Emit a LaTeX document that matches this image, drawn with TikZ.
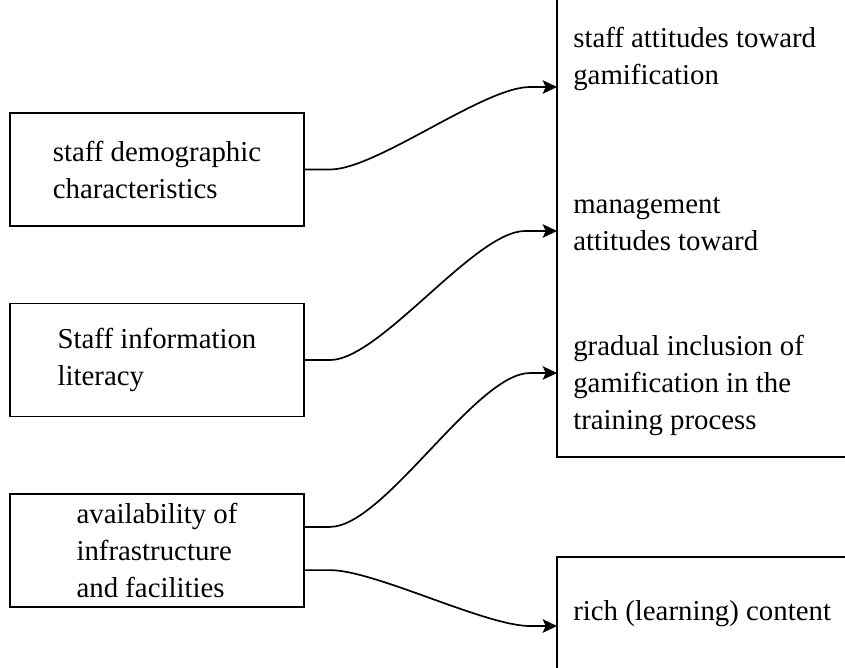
\documentclass[tikz,border=0pt]{standalone}
\usepackage{fontspec}
\setmainfont{Liberation Serif}
\usepackage{tikz}
\usetikzlibrary{positioning,calc,arrows.meta}

\tikzset{
  factor/.style={draw,rectangle,line width=1.3pt,minimum width=7.35cm,minimum height=2.825cm,align=left,inner sep=0pt},
  outcome/.style={anchor=north west,align=left,inner sep=0pt},
  link/.style={line width=1.2pt,looseness=0.55,-{Stealth[length=0.36cm,width=0.34cm,inset=0.08cm]}}
}

\begin{document}
\begin{tikzpicture}[x=0.025cm,y=-0.025cm,font={\fontsize{20.5}{26.3}\selectfont}]
    \useasboundingbox (0,0) rectangle (845,667);
    \clip (0,0) rectangle (845,667);

    % factors on the left
    \node[factor] (demog) at (157,169.5) {staff demographic\\characteristics};
    \node[factor] (literacy) at (157,360) {Staff information\\literacy};
    \node[factor] (avail) at (157,550.5) {availability of\\infrastructure\\and facilities};

    % boxes on the right, cut by the page edge
    \draw[line width=1.3pt] (557,-20) rectangle (880,457);
    \draw[line width=1.3pt] (557,557) rectangle (880,700);
    \node[outcome] (staffatt) at (573,21) {\strut staff attitudes toward\\gamification};
    \node[outcome] (mgmtatt) at (573,187) {\strut management\\attitudes toward};
    \node[outcome] (gradual) at (573,329) {\strut gradual inclusion of\\gamification in the\\training process};
    \node[outcome] (content) at (573,594) {\strut rich (learning) content};

    % arrow ends on the left edge
    \coordinate (t1) at (557,87);
    \coordinate (t2) at (557,231);
    \coordinate (t3) at (557,373);
    \coordinate (t4) at (557,626);

    \draw[link] (demog.east) -- ++(25,0) to[out=0,in=180] ($(t1)+(-27,0)$) -- (t1);
    \draw[link] (literacy.east) -- ++(25,0) to[out=0,in=180] ($(t2)+(-32,0)$) -- (t2);
    \draw[link] ([yshift=0.59cm]avail.east) -- ++(25,0) to[out=0,in=180] ($(t3)+(-27,0)$) -- (t3);
    \draw[link] ([yshift=-0.49cm]avail.east) -- ++(25,0) to[out=0,in=180] ($(t4)+(-27,0)$) -- (t4);
\end{tikzpicture}
\end{document}
